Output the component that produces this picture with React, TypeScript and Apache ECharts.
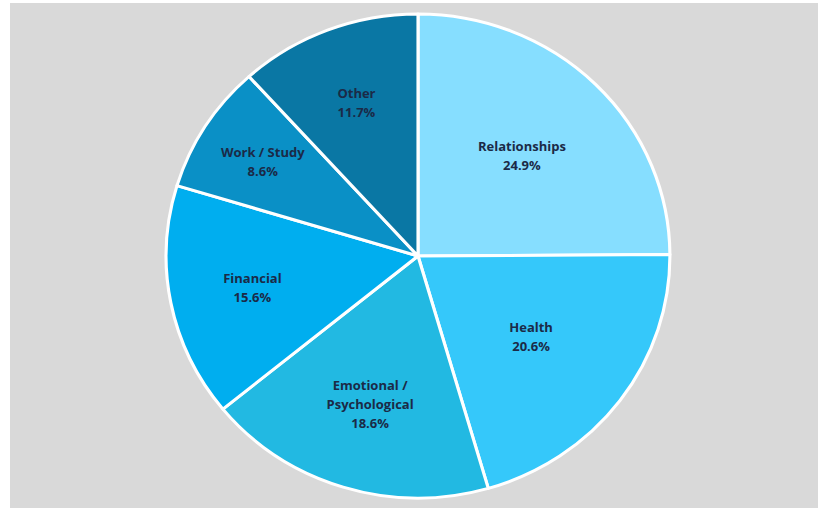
import React, { useEffect, useRef } from "react";
import * as echarts from "echarts";

const categories = ["Relationships", "Health", "Emotional /\nPsychological", "Financial", "Work / Study", "Other"];
const shares = [24.9, 20.6, 18.6, 15.6, 8.6, 11.7];
const colors = ["#86DEFF", "#35C8FA", "#22B9E2", "#00AEEF", "#0A90C6", "#0A77A4"];
// radial placement of each label, as a fraction of the radius (style)
const labelRadial = [0.585, 0.56, 0.64, 0.67, 0.73, 0.68];

const W = 808;
const H = 505;
const CX = 408;
const CY = 253;
const R = 242;
const STRETCH_X = 1.041;

export default function App() {
  const ref = useRef<HTMLDivElement>(null);
  useEffect(() => {
    if (!ref.current) return;
    const chart = echarts.init(ref.current, undefined, { renderer: "svg" });
    const total = shares.reduce((a, b) => a + b, 0);
    const mids: number[] = [];
    let acc = 0;
    shares.forEach((v) => {
      mids.push(((acc + v / 2) / total) * 2 * Math.PI);
      acc += v;
    });
    chart.setOption({
      animation: false,
      backgroundColor: "#D9D9D9",
      series: [
        {
          type: "pie",
          center: [CX, CY],
          radius: [0, R],
          startAngle: 90,
          clockwise: true,
          avoidLabelOverlap: false,
          data: categories.map((c, i) => ({
            name: c,
            value: shares[i],
            itemStyle: { color: colors[i] },
          })),
          itemStyle: { borderColor: "#FFFFFF", borderWidth: 3 },
          label: {
            show: true,
            position: "inside",
            formatter: (p: any) => `${p.name}\n${p.value.toFixed(1)}%`,
            color: "#1B2A47",
            fontFamily: "Open Sans",
            fontWeight: "bold",
            fontSize: 12.5,
            lineHeight: 19,
            align: "center",
          },
          labelLine: { show: false },
          labelLayout: (params: any) => {
            const i = params.dataIndex;
            const a = mids[i];
            const r = R * labelRadial[i];
            return {
              x: CX + r * Math.sin(a),
              y: CY - r * Math.cos(a),
              align: "center",
              verticalAlign: "middle",
            };
          },
          emphasis: { disabled: true },
        },
      ],
    });
    return () => chart.dispose();
  }, []);
  return (
    <div style={{ position: "fixed", left: 0, top: 0, width: 818, height: 510, background: "#FFFFFF", overflow: "hidden" }}>
      <div style={{ position: "absolute", left: 10, top: 3, width: W, height: H, background: "#D9D9D9", overflow: "hidden" }}>
        <div
          ref={ref}
          style={{
            position: "absolute",
            left: 0,
            top: 0,
            width: W,
            height: H,
            transform: `scaleX(${STRETCH_X})`,
            transformOrigin: `${CX}px ${CY}px`,
          }}
        />
      </div>
    </div>
  );
}
